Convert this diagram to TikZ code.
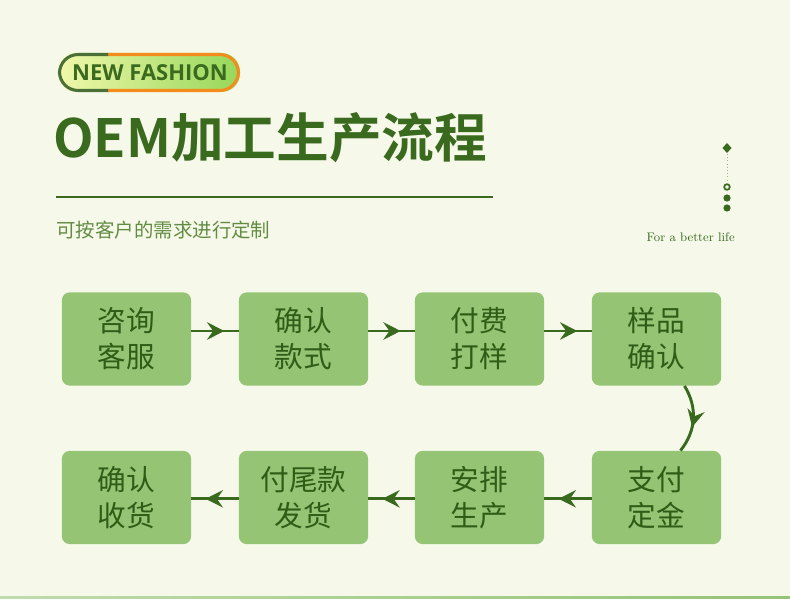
\documentclass[tikz,border=0pt]{standalone}
\usepackage{fontspec}
\newfontfamily\cjk{Noto Sans CJK SC}
\newfontfamily\cjkbold{Noto Sans CJK SC Bold}
\newfontfamily\badgefont{Open Sans}
\usetikzlibrary{arrows.meta,decorations.markings}
\definecolor{bgcol}{RGB}{246,249,234}
\definecolor{boxfill}{RGB}{148,196,116}
\definecolor{dkgreen}{RGB}{58,106,30}
\definecolor{txtgreen}{RGB}{48,92,22}
\definecolor{subgreen}{RGB}{98,140,66}
\definecolor{badgeorange}{RGB}{243,140,28}
\begin{document}
\begin{tikzpicture}[x=0.75pt,y=-0.75pt]
\tikzstyle{step box}=[draw=none, fill=boxfill, rounded corners=6pt, minimum width=97pt, minimum height=70pt, text=txtgreen, align=center, font=\cjk\fontsize{21.5}{27}\selectfont]
\tikzstyle{flow}=[draw=dkgreen, line width=2.2pt, postaction={decorate}, decoration={markings, mark=at position 0.7 with {\arrow{Stealth[length=13pt,width=13pt,inset=4.5pt]}}}]
\tikzstyle{bend flow}=[draw=dkgreen, line width=2.2pt, postaction={decorate}, decoration={markings, mark=at position 0.62 with {\arrow{Stealth[length=13pt,width=13pt,inset=4.5pt]}}}]
\tikzstyle{dot}=[fill=dkgreen, draw=none]

% Background
\fill[bgcol] (0,0) rectangle (790,599);
\useasboundingbox (0,0) rectangle (790,599);
\shade[left color=boxfill!60, right color=boxfill] (0,596) rectangle (790,599);

% Badge
\shade[left color={rgb,255:red,240;green,248;blue,170}, right color={rgb,255:red,150;green,215;blue,90}, rounded corners=14pt] (58,53) rectangle (240,92);
\begin{scope}
\clip (108,40) rectangle (250,100);
\draw[badgeorange, line width=2.3pt, rounded corners=14pt] (59.5,54.5) rectangle (238.5,90.5);
\end{scope}
\begin{scope}
\clip (40,40) rectangle (108,100);
\draw[dkgreen!75!gray, line width=2.3pt, rounded corners=14pt] (59.5,54.5) rectangle (238.5,90.5);
\end{scope}
\node[text=dkgreen, font=\badgefont\bfseries\fontsize{16.5}{18}\selectfont] (badge) at (150,73) {NEW FASHION};

% Title block
\node[anchor=west, inner sep=0pt, text=dkgreen, font=\cjkbold\fontsize{39.5}{44}\selectfont] (title) at (53,138) {OEM加工生产流程};
\draw[dkgreen, line width=0.8pt] (56,197) -- (493,197);
\node[anchor=west, inner sep=0pt, text=subgreen, font=\cjk\fontsize{14.6}{16}\selectfont] (subtitle) at (56,230) {可按客户的需求进行定制};
\node[anchor=east, inner sep=0pt, text=dkgreen, font=\fontsize{9.3}{10}\selectfont] (slogan) at (735,237) {For a better life};

% Side marks
\fill[dkgreen] (727,143) -- (731.5,148) -- (727,153) -- (722.5,148) -- cycle;
\draw[dkgreen!50, line width=0.4pt, dotted] (727,154) -- (727,182);
\draw[dkgreen, line width=1.3pt] (727,187) circle (2.8);
\fill[dot] (727,198) circle (3.6);
\fill[dot] (727,208) circle (3.6);

% Steps
\node[step box] (s1) at (126.5,339) {咨询\\客服};
\node[step box] (s2) at (303.5,339) {确认\\款式};
\node[step box] (s3) at (479.5,339) {付费\\打样};
\node[step box] (s4) at (656.5,339) {样品\\确认};
\node[step box] (s5) at (656.5,497.5) {支付\\定金};
\node[step box] (s6) at (479.5,497.5) {安排\\生产};
\node[step box] (s7) at (303.5,497.5) {付尾款\\发货};
\node[step box] (s8) at (126.5,497.5) {确认\\收货};

% Flow arrows
\draw[flow] ([yshift=6pt]s1.east) -- ([yshift=6pt]s2.west);
\draw[flow] ([yshift=6pt]s2.east) -- ([yshift=6pt]s3.west);
\draw[flow] ([yshift=6pt]s3.east) -- ([yshift=6pt]s4.west);
\draw[bend flow] ([xshift=21pt]s4.south) to[bend left=35] ([xshift=18pt]s5.north);
\draw[flow] ([yshift=-1pt]s5.west) -- ([yshift=-1pt]s6.east);
\draw[flow] ([yshift=-1pt]s6.west) -- ([yshift=-1pt]s7.east);
\draw[flow] ([yshift=-1pt]s7.west) -- ([yshift=-1pt]s8.east);
\end{tikzpicture}
\end{document}
